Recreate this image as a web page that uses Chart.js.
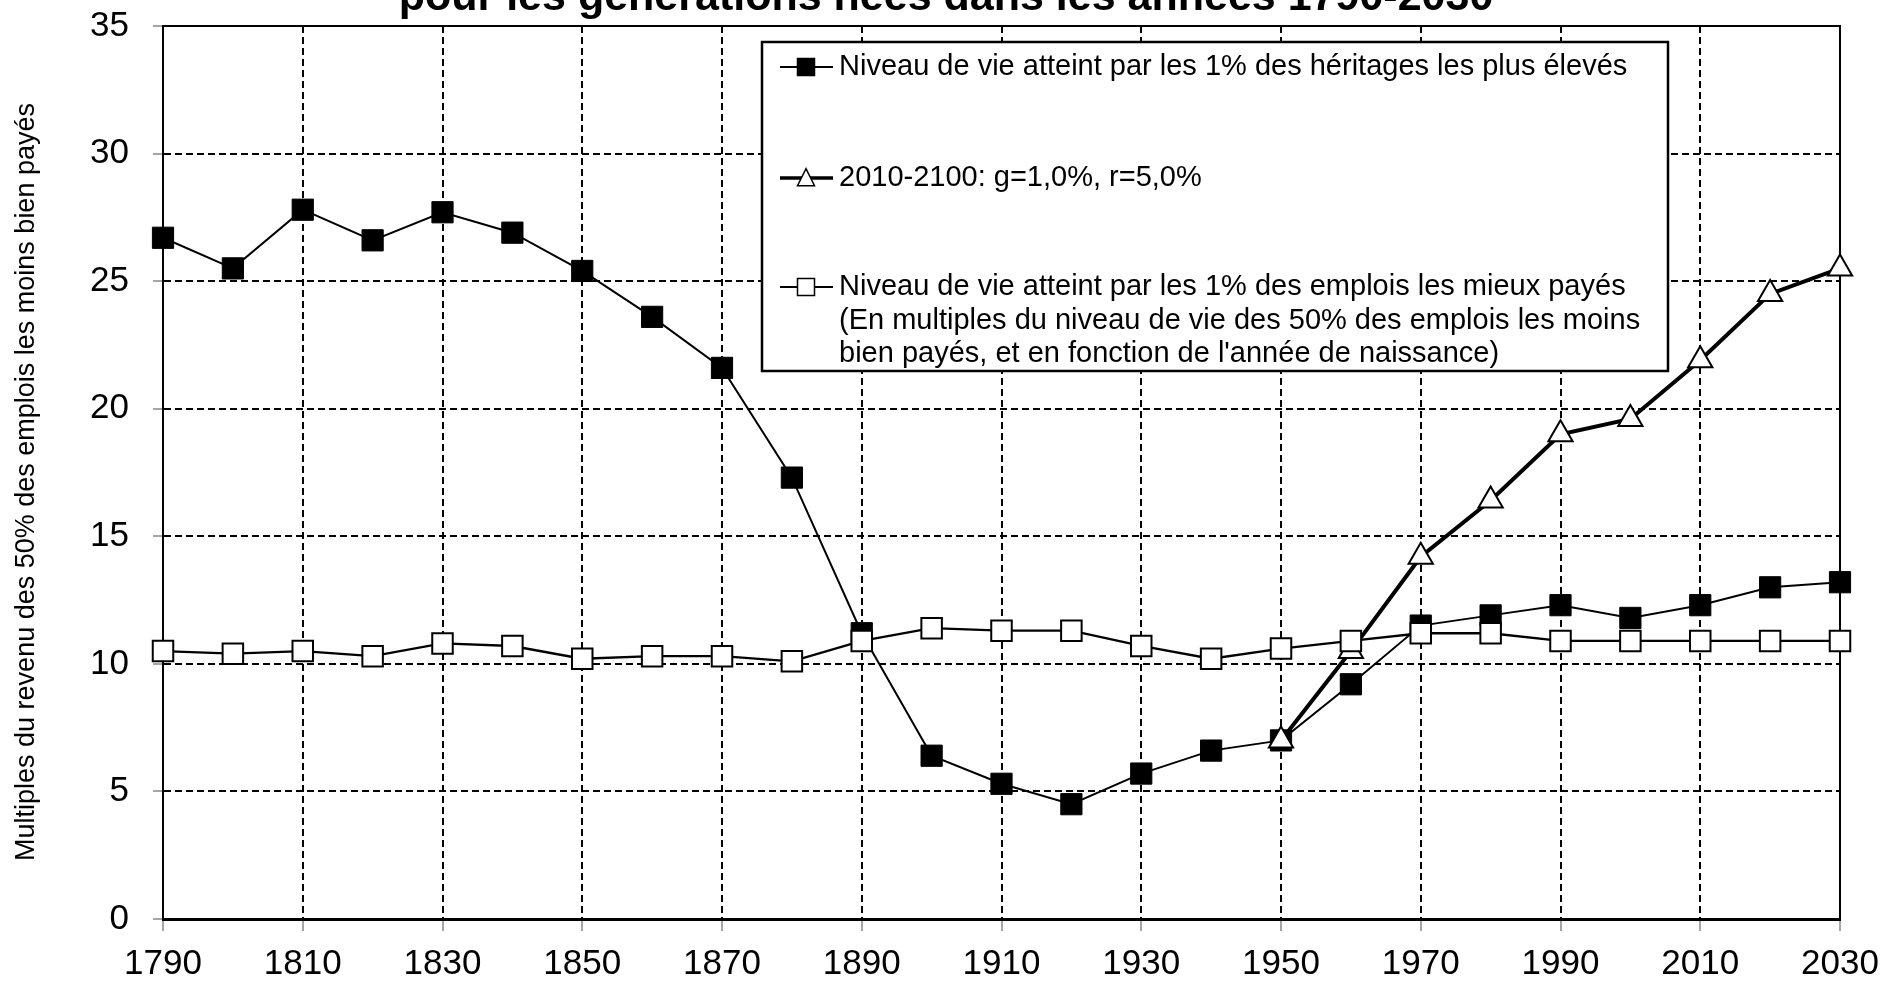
<!DOCTYPE html>
<html>
  <head>
    <meta charset="utf-8">
    <title>Niveau de vie atteint par les 1% les plus élevés</title>
    <script src="https://cdn.jsdelivr.net/npm/chart.js@4.4.1/dist/chart.umd.min.js"></script>
    <style>
      html, body { margin: 0; padding: 0; background: #fff; }
      #canvas { display: block; }
    </style>
  </head>

  <body>
    <canvas id="canvas" width="1888" height="981"></canvas>
    <script>
      // generations born 1790-2030, one point per decade
      const years = [1790, 1800, 1810, 1820, 1830, 1840, 1850, 1860, 1870, 1880, 1890, 1900, 1910,
                     1920, 1930, 1940, 1950, 1960, 1970, 1980, 1990, 2000, 2010, 2020, 2030];
      // top 1% inheritances
      const heritage = [26.7, 25.5, 27.8, 26.6, 27.7, 26.9, 25.4, 23.6, 21.6, 17.3, 11.2, 6.4, 5.3,
                        4.5, 5.7, 6.6, 7.0, 9.2, 11.5, 11.9, 12.3, 11.8, 12.3, 13.0, 13.2];
      // top 1% labour incomes
      const emplois = [10.5, 10.4, 10.5, 10.3, 10.8, 10.7, 10.2, 10.3, 10.3, 10.1, 10.9, 11.4, 11.3,
                       11.3, 10.7, 10.2, 10.6, 10.9, 11.2, 11.2, 10.9, 10.9, 10.9, 10.9, 10.9];
      // scenario g=1%, r=5%
      const projYears = [1950, 1960, 1970, 1980, 1990, 2000, 2010, 2020, 2030];
      const projection = [7.0, 10.5, 14.2, 16.4, 19.0, 19.6, 21.9, 24.5, 25.5];

      const title = 'pour les générations nées dans les années 1790-2030';
      const yTitle = 'Multiples du revenu des 50% des emplois les moins bien payés';
      const heritageLabel = 'Niveau de vie atteint par les 1% des héritages les plus élevés';
      const projLabel = '2010-2100: g=1,0%, r=5,0%';
      const emploisLabel = [
        'Niveau de vie atteint par les 1% des emplois les mieux payés',
        '(En multiples du niveau de vie des 50% des emplois les moins',
        'bien payés, et en fonction de l\'année de naissance)'
      ];

      const FONT = '"Liberation Sans", Arial, sans-serif';

      const toPoints = (xs, ys) => xs.map((x, i) => ({ x: x, y: ys[i] }));

      // marker used in the legend box
      function marker(ctx, style, fill, cx, cy, s) {
        ctx.beginPath();
        if (style === 'triangle') {
          ctx.moveTo(cx, cy - s * 0.55);
          ctx.lineTo(cx + s / 2, cy + s * 0.45);
          ctx.lineTo(cx - s / 2, cy + s * 0.45);
          ctx.closePath();
        } else {
          ctx.rect(cx - s / 2, cy - s / 2, s, s);
        }
        ctx.fillStyle = fill;
        ctx.fill();
        ctx.lineWidth = 1.5;
        ctx.strokeStyle = '#000';
        ctx.stroke();
      }

      // top and right edges of the plot frame
      const frame = {
        id: 'frame',
        beforeDatasetsDraw(chart) {
          const { ctx, chartArea: a } = chart;
          ctx.save();
          ctx.strokeStyle = '#000';
          ctx.lineWidth = 2;
          ctx.beginPath();
          ctx.moveTo(a.left, a.top);
          ctx.lineTo(a.right, a.top);
          ctx.lineTo(a.right, a.bottom);
          ctx.stroke();
          ctx.restore();
        }
      };

      // title, rotated y title and the boxed legend
      const texts = {
        id: 'texts',
        afterDraw(chart) {
          const ctx = chart.ctx;
          ctx.save();
          ctx.fillStyle = '#000';

          ctx.font = 'bold 43px ' + FONT;
          ctx.textAlign = 'center';
          ctx.textBaseline = 'alphabetic';
          ctx.fillText(title, 946, 10);

          ctx.save();
          ctx.translate(27, 482);
          ctx.rotate(-Math.PI / 2);
          ctx.font = '27px ' + FONT;
          ctx.textBaseline = 'middle';
          ctx.fillText(yTitle, 0, 0);
          ctx.restore();

          // legend box
          const box = { l: 762, t: 42, r: 1668, b: 371 };
          ctx.fillStyle = '#fff';
          ctx.fillRect(box.l, box.t, box.r - box.l, box.b - box.t);
          ctx.strokeStyle = '#000';
          ctx.lineWidth = 2.5;
          ctx.strokeRect(box.l, box.t, box.r - box.l, box.b - box.t);

          const entries = [
            { style: 'rect', fill: '#000', lw: 2, y: 67, lines: [heritageLabel] },
            { style: 'triangle', fill: '#fff', lw: 3.5, y: 178, lines: [projLabel] },
            { style: 'rect', fill: '#fff', lw: 2, y: 287, lines: emploisLabel }
          ];
          ctx.font = '29px ' + FONT;
          ctx.textAlign = 'left';
          ctx.textBaseline = 'middle';
          entries.forEach(e => {
            ctx.strokeStyle = '#000';
            ctx.lineWidth = e.lw;
            ctx.beginPath();
            ctx.moveTo(780, e.y);
            ctx.lineTo(833, e.y);
            ctx.stroke();
            marker(ctx, e.style, e.fill, 806, e.y, 17);
            ctx.fillStyle = '#000';
            e.lines.forEach((t, i) => ctx.fillText(t, 839, e.y + i * 33.5));
          });
          ctx.restore();
        }
      };

      const tickFont = { family: FONT, size: 35 };

      new Chart(document.getElementById('canvas').getContext('2d'), {
        type: 'line',
        data: {
          datasets: [
            {
              label: emploisLabel[0],
              data: toPoints(years, emplois),
              borderColor: '#000',
              borderWidth: 2.3,
              pointStyle: 'rect',
              pointRadius: 14.5,
              pointBackgroundColor: '#fff',
              pointBorderColor: '#000',
              pointBorderWidth: 2,
              clip: false,
              order: 1
            },
            {
              label: projLabel,
              data: toPoints(projYears, projection),
              borderColor: '#000',
              borderWidth: 4,
              pointStyle: 'triangle',
              pointRadius: 14,
              pointBackgroundColor: '#fff',
              pointBorderColor: '#000',
              pointBorderWidth: 2,
              clip: false,
              order: 2
            },
            {
              label: heritageLabel,
              data: toPoints(years, heritage),
              borderColor: '#000',
              borderWidth: 2,
              pointStyle: 'rect',
              pointRadius: 15,
              pointBackgroundColor: '#000',
              pointBorderColor: '#000',
              pointBorderWidth: 1,
              clip: false,
              order: 3
            }
          ]
        },
        options: {
          responsive: false,
          animation: false,
          devicePixelRatio: 1,
          layout: { padding: { top: 26, right: 48, left: 0, bottom: 0 } },
          elements: { line: { tension: 0 } },
          plugins: {
            legend: { display: false },
            tooltip: { enabled: false },
            title: { display: false }
          },
          scales: {
            x: {
              type: 'linear',
              min: 1790,
              max: 2030,
              afterFit(scale) {
                scale.height = 62;
                scale.paddingLeft = 0;
                scale.paddingRight = 0;
              },
              ticks: {
                stepSize: 20,
                color: '#000',
                font: tickFont,
                padding: 12,
                maxRotation: 0,
                callback: v => String(v)
              },
              grid: { color: '#000', lineWidth: 2, tickColor: '#888', tickLength: 12, tickWidth: 1.5 },
              border: { color: '#000', width: 3, dash: [7, 4] }
            },
            y: {
              min: 0,
              max: 35,
              afterFit(scale) {
                scale.width = 163;
                scale.paddingTop = 0;
                scale.paddingBottom = 0;
              },
              ticks: { stepSize: 5, color: '#000', font: tickFont, padding: 24 },
              grid: { color: '#000', lineWidth: 2, tickColor: '#888', tickLength: 10, tickWidth: 1.5 },
              border: { color: '#000', width: 2, dash: [7, 4] }
            }
          }
        },
        plugins: [frame, texts]
      });
    </script>
  </body>
</html>
